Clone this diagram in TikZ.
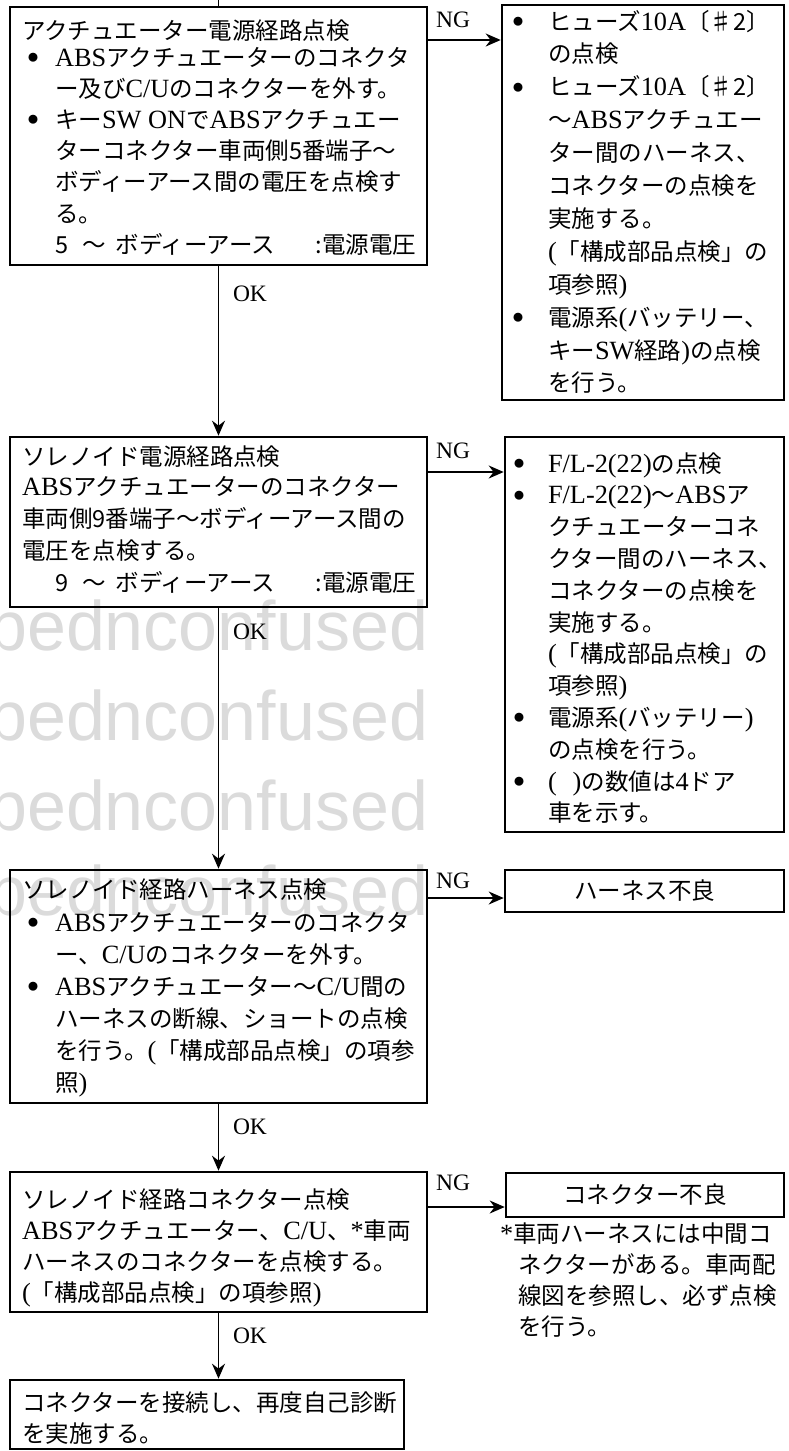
\documentclass[tikz,border=0pt]{standalone}
\usepackage{fontspec}
\setmainfont{Noto Sans CJK JP}
\newfontfamily\latfont[Scale=1.12]{Liberation Serif}
\newfontfamily\wmfont{Liberation Sans}
\usetikzlibrary{arrows.meta}
\newcommand\lt[1]{{\latfont #1}}
\newcommand\st{\rule[-8pt]{0pt}{30pt}}
\newcommand\bu[1]{\makebox[#1][l]{\raisebox{4.6pt}{\fontsize{10pt}{10pt}\selectfont ●}}}
\tikzset{
  box/.style={draw, line width=2.6pt, inner sep=0pt, rectangle},
  txt/.style={anchor=north west, inner sep=0pt, outer sep=0pt, align=left},
  lab/.style={font=\latfont\fontsize{21pt}{26pt}\selectfont, inner sep=0pt},
  conn/.style={line width=1.4pt, -{Stealth[length=15pt,width=13pt]}},
  wm/.style={anchor=base west, inner sep=0pt, text=black!14, font=\wmfont\fontsize{70pt}{80pt}\selectfont},
}
\begin{document}
\begin{tikzpicture}[x=1pt,y=-1pt]
\path[use as bounding box] (0,0) rectangle (788,1451);
% watermark
\node[wm] (wm1) at (-12,650) {bednconfused};
\node[wm] (wm2) at (-12,740) {bednconfused};
\node[wm] (wm3) at (-12,830) {bednconfused};
\node[wm] (wm4) at (-12,915) {bednconfused};
% boxes
\node[box, minimum width=417pt, minimum height=258pt] (b1) at (218.5,136) {};
\node[box, minimum width=282pt, minimum height=395pt] (rb1) at (643,202.5) {};
\node[box, minimum width=417pt, minimum height=170pt] (b2) at (218.5,522) {};
\node[box, minimum width=279pt, minimum height=395pt] (rb2) at (644.5,634.5) {};
\node[box, minimum width=417pt, minimum height=233pt] (b3) at (218.5,986.5) {};
\node[box, minimum width=279pt, minimum height=42pt, font=\fontsize{23.5pt}{28pt}\selectfont] (rb3) at (644.5,891) {ハーネス不良};
\node[box, minimum width=417pt, minimum height=140pt] (b4) at (218.5,1242) {};
\node[box, minimum width=278pt, minimum height=44pt, font=\fontsize{23.5pt}{28pt}\selectfont] (rb4) at (645,1195) {コネクター不良};
\node[box, minimum width=394pt, minimum height=69pt] (b5) at (207,1414.5) {};
% box 1 text
\node[txt, font=\fontsize{23.5pt}{31.2pt}\selectfont] (t1a) at (22,17) {\st アクチュエーター電源経路点検};
\node[txt, font=\fontsize{23.5pt}{31.2pt}\selectfont] (t1b) at (28,44) {%
\st\bu{27pt}\lt{ABS}アクチュエーターのコネクタ\\%
\st\hspace*{27pt}ー及び\lt{C/U}のコネクターを外す。\\%
\st\bu{27pt}キー\lt{SW ON}で\lt{ABS}アクチュエー\\%
\st\hspace*{27pt}ターコネクター車両側5番端子〜\\%
\st\hspace*{27pt}ボディーアース間の電圧を点検す\\%
\st\hspace*{27pt}る。\\%
\st\hspace*{27pt}5\hspace{14pt}〜\hspace{10pt}ボディーアース\hspace{41pt}:電源電圧}; 
% right box 1 text
\node[txt, font=\fontsize{23.5pt}{32.9pt}\selectfont] (t1r) at (513,8) {%
\st\bu{35pt}ヒューズ\lt{10A}〔♯2〕\\%
\st\hspace*{35pt}の点検\\%
\st\bu{35pt}ヒューズ\lt{10A}〔♯2〕\\%
\st\hspace*{35pt}〜\lt{ABS}アクチュエー\\%
\st\hspace*{35pt}ター間のハーネス、\\%
\st\hspace*{35pt}コネクターの点検を\\%
\st\hspace*{35pt}実施する。\\%
\st\hspace*{35pt}\lt{(}「構成部品点検」の\\%
\st\hspace*{35pt}項参照\lt{)}\\%
\st\bu{35pt}電源系\lt{(}バッテリー、\\%
\st\hspace*{35pt}キー\lt{SW}経路\lt{)}の点検\\%
\st\hspace*{35pt}を行う。};
% box 2 text
\node[txt, font=\fontsize{23.5pt}{31.2pt}\selectfont] (t2a) at (22,443) {\st ソレノイド電源経路点検};
\node[txt, font=\fontsize{23.5pt}{32pt}\selectfont] (t2b) at (22,473) {%
\st\lt{ABS}アクチュエーターのコネクター\\%
\st 車両側9番端子〜ボディーアース間の\\%
\st 電圧を点検する。\\%
\st\hspace*{33pt}9\hspace{14pt}〜\hspace{10pt}ボディーアース\hspace{41pt}:電源電圧};
% right box 2 text
\node[txt, font=\fontsize{23.5pt}{31.8pt}\selectfont] (t2r) at (514,450) {%
\st\bu{34pt}\lt{F/L-2(22)}の点検\\%
\st\bu{34pt}\lt{F/L-2(22)}〜\lt{ABS}ア\\%
\st\hspace*{34pt}クチュエーターコネ\\%
\st\hspace*{34pt}クター間のハーネス、\\%
\st\hspace*{34pt}コネクターの点検を\\%
\st\hspace*{34pt}実施する。\\%
\st\hspace*{34pt}\lt{(}「構成部品点検」の\\%
\st\hspace*{34pt}項参照\lt{)}\\%
\st\bu{34pt}電源系\lt{(}バッテリー\lt{)}\\%
\st\hspace*{34pt}の点検を行う。\\%
\st\bu{34pt}\lt{(}\hspace{16pt}\lt{)}の数値は\lt{4}ドア\\%
\st\hspace*{34pt}車を示す。};
% box 3 text
\node[txt, font=\fontsize{23.5pt}{31.2pt}\selectfont] (t3a) at (22,876) {\st ソレノイド経路ハーネス点検};
\node[txt, font=\fontsize{23.5pt}{32pt}\selectfont] (t3b) at (28,909) {%
\st\bu{27pt}\lt{ABS}アクチュエーターのコネクタ\\%
\st\hspace*{27pt}ー、\lt{C/U}のコネクターを外す。\\%
\st\bu{27pt}\lt{ABS}アクチュエーター〜\lt{C/U}間の\\%
\st\hspace*{27pt}ハーネスの断線、ショートの点検\\%
\st\hspace*{27pt}を行う。\lt{(}「構成部品点検」の項参\\%
\st\hspace*{27pt}照\lt{)}};
% box 4 text
\node[txt, font=\fontsize{23.5pt}{31.3pt}\selectfont] (t4) at (22,1186) {%
\st ソレノイド経路コネクター点検\\%
\st\lt{ABS}アクチュエーター、\lt{C/U}、\lt{*}車両\\%
\st ハーネスのコネクターを点検する。\\%
\st\lt{(}「構成部品点検」の項参照\lt{)}};
% note
\node[txt, font=\fontsize{23.5pt}{31pt}\selectfont] (note) at (500,1220) {%
\st\lt{*}車両ハーネスには中間コ\\%
\st\hspace*{18pt}ネクターがある。車両配\\%
\st\hspace*{18pt}線図を参照し、必ず点検\\%
\st\hspace*{18pt}を行う。};
% box 5 text
\node[txt, font=\fontsize{23.5pt}{29pt}\selectfont] (t5) at (22,1389) {%
\st コネクターを接続し、再度自己診断\\%
\st を実施する。};
% connectors
\coordinate (top) at (218.5,0);
\draw[line width=1.4pt] (top) -- (b1.north);
\draw[conn] (b1.south) -- (b2.north);
\draw[conn] (b2.south) -- (b3.north);
\draw[conn] (b3.south) -- (b4.north);
\draw[conn] (b4.south) -- (b4.south |- b5.north);
\coordinate (ng1) at (0,40);
\coordinate (ng2) at (0,472);
\coordinate (ng3) at (0,898);
\coordinate (ng4) at (0,1207);
\draw[conn] (b1.east |- ng1) -- (rb1.west |- ng1);
\draw[conn] (b2.east |- ng2) -- (rb2.west |- ng2);
\draw[conn] (b3.east |- ng3) -- (rb3.west |- ng3);
\draw[conn] (b4.east |- ng4) -- (rb4.west |- ng4);
% labels
\node[lab] (ngl1) at (453,20) {NG};
\node[lab] (ngl2) at (453,451) {NG};
\node[lab] (ngl3) at (453,881) {NG};
\node[lab] (ngl4) at (453,1183) {NG};
\node[lab] (ok1) at (250,294) {OK};
\node[lab] (ok2) at (250,632) {OK};
\node[lab] (ok3) at (250,1127) {OK};
\node[lab] (ok4) at (250,1336) {OK};
\end{tikzpicture}
\end{document}
